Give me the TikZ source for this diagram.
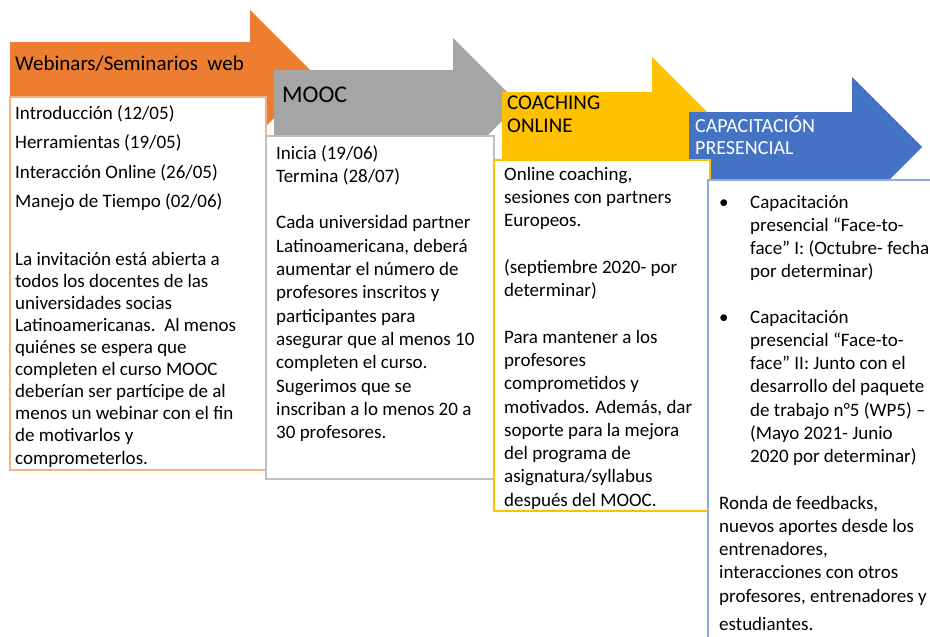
\documentclass[tikz,border=0pt]{standalone}
\usepackage{fontspec}
\setmainfont{Carlito}
\definecolor{cOrange}{HTML}{ED7D31}
\definecolor{cGrey}{HTML}{A5A5A5}
\definecolor{cYellow}{HTML}{FFC000}
\definecolor{cBlue}{HTML}{4472C4}
\definecolor{bOrange}{HTML}{F4B183}
\definecolor{bGrey}{HTML}{BFBFBF}
\definecolor{bYellow}{HTML}{FFC000}
\definecolor{bBlue}{HTML}{8FAADC}
\newcommand\procarrow[6]{%
  \fill[#1] (#2,#4-#5) -- (#3,#4-#5) -- (#3,#4-#6) -- (#3+#6,#4) -- (#3,#4+#6) -- (#3,#4+#5) -- (#2,#4+#5) -- cycle;}
\tikzset{
  bodytext/.style={font=\fontsize{19}{23.3}\selectfont, anchor=base west, align=left, inner sep=0pt},
  titletext/.style={font=\fontsize{21}{23.3}\selectfont, anchor=base west, align=left, inner sep=0pt},
  infobox/.style={fill=white, line width=1.3pt}
}
\begin{document}
\begin{tikzpicture}[x=1pt,y=-1pt]
\useasboundingbox[fill=white] (0,0) rectangle (930,637);
% arrows
\procarrow{cOrange}{10}{250}{76}{34}{66}
\procarrow{cGrey}{274}{453}{104}{34}{66}
\procarrow{cYellow}{502}{652}{127}{35}{70}
\procarrow{cBlue}{689}{852}{147}{35}{70}
% boxes
\draw[infobox, draw=bOrange] (10,97) rectangle (266,470);
\draw[infobox, draw=bGrey] (266,136) rectangle (494,479);
\draw[infobox, draw=bYellow] (494,160) rectangle (710,511);
\draw[infobox, draw=bBlue] (708,180) rectangle (960,660);
% titles (base anchor = baseline of the last line)
\node[titletext] (t1) at (15,70) {Webinars/Seminarios\ \ web};
\node[titletext, font=\fontsize{24}{26}\selectfont] (t2) at (282,102) {MOOC};
\node[titletext] (t3) at (507,132.5) {COACHING\\ONLINE};
\node[titletext, font=\fontsize{20}{22.5}\selectfont, text=white] (t4) at (695,154.5) {CAPACITACIÓN\\PRESENCIAL};
% box 1
\node[bodytext, font=\fontsize{19}{29.5}\selectfont] (b1a) at (15,207.5) {Introducción (12/05)\\Herramientas (19/05)\\Interacción Online (26/05)\\Manejo de Tiempo (02/06)};
\node[bodytext, font=\fontsize{19}{22.1}\selectfont] (b1b) at (15,464) {La invitación está abierta a\\todos los docentes de las\\universidades socias\\Latinoamericanas.\ \ Al menos\\quiénes se espera que\\completen el curso MOOC\\deberían ser partícipe de al\\menos un webinar con el fin\\de motivarlos y\\comprometerlos.};
% box 2
\node[bodytext] (b2) at (276,438.6) {Inicia (19/06)\\Termina (28/07)\\[23.3pt]Cada universidad partner\\Latinoamericana, deberá\\aumentar el número de\\profesores inscritos y\\participantes para\\asegurar que al menos 10\\completen el curso.\\Sugerimos que se\\inscriban a lo menos 20 a\\30 profesores.};
% box 3
\node[bodytext] (b3) at (504,506.2) {Online coaching,\\sesiones con partners\\Europeos.\\[23.3pt](septiembre 2020- por\\determinar)\\[23.3pt]Para mantener a los\\profesores\\comprometidos y\\motivados. Además, dar\\soporte para la mejora\\del programa de\\asignatura/syllabus\\después del MOOC.};
% box 4
\node[bodytext] (bul1) at (719,208) {•};
\node[bodytext] (b4a) at (750,277.9) {Capacitación\\presencial “Face-to-\\face” I: (Octubre- fecha\\por determinar)};
\node[bodytext] (bul2) at (719,323) {•};
\node[bodytext] (b4b) at (750,462.8) {Capacitación\\presencial “Face-to-\\face” II: Junto con el\\desarrollo del paquete\\de trabajo n°5 (WP5) –\\(Mayo 2021- Junio\\2020 por determinar)};
\node[bodytext] (b4c) at (719,630) {Ronda de feedbacks,\\nuevos aportes desde los\\entrenadores,\\interacciones con otros\\profesores, entrenadores y\\[4.5pt]estudiantes.};
\end{tikzpicture}
\end{document}
